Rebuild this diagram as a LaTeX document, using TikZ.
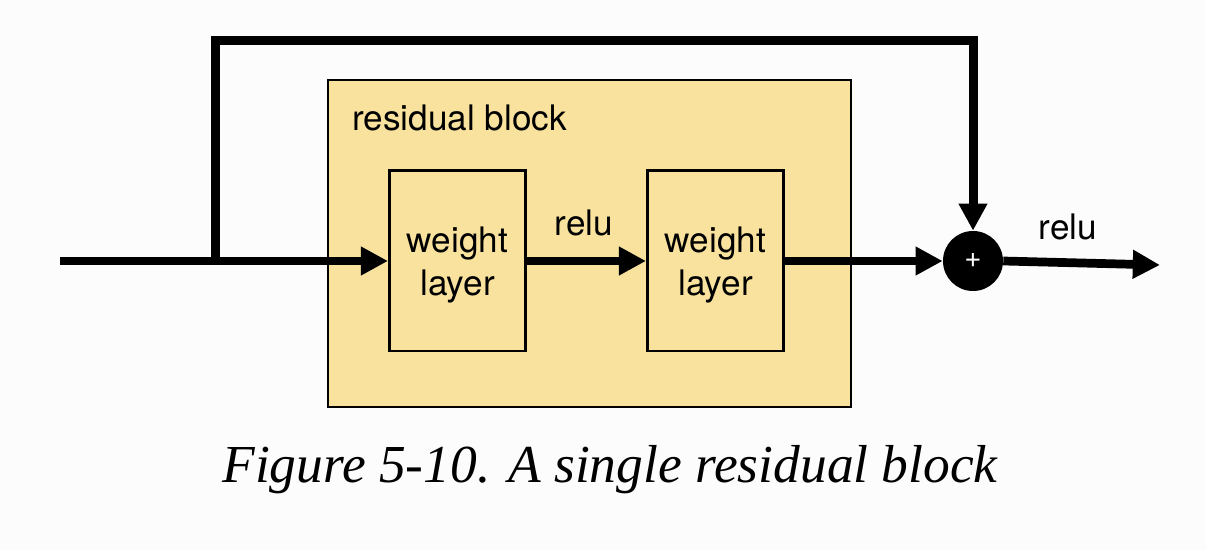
\documentclass[tikz,border=0pt]{standalone}
\usepackage{fontspec}
\setmainfont{TeX Gyre Heros}
\newfontfamily\capfont{Liberation Serif}
\usetikzlibrary{arrows.meta}
\definecolor{bg}{HTML}{FCFCFC}
\definecolor{rbfill}{HTML}{F8E29E}
\tikzset{
  wl/.style={draw=black, line width=2.1pt, fill=rbfill, minimum width=3.4cm, minimum height=4.5cm, inner sep=0pt, align=center, font=\fontsize{25}{30.5}\selectfont},
  rbox/.style={draw=black, line width=1.4pt, fill=rbfill, minimum width=13.075cm, minimum height=8.175cm, inner sep=0pt},
  flow/.style={line width=6.2pt, line join=miter, -{Triangle[length=0.68cm,width=0.68cm]}},
  skipline/.style={line width=6.4pt, line join=miter, -{Triangle[length=0.68cm,width=0.68cm]}},
  lbl/.style={font=\fontsize{25}{30}\selectfont, inner sep=0pt, anchor=base},
  sumnode/.style={circle, fill=black, minimum size=1.5cm, inner sep=0pt, text=white, font=\fontsize{21}{24}\selectfont}
}
\begin{document}
\begin{tikzpicture}[x=0.025cm, y=-0.025cm]
  \fill[bg] (0,0) rectangle (1206,550);
  \useasboundingbox (0,0) rectangle (1206,550);
  \node[rbox] (rb) at (589.5,243.5) {};
  \node[lbl, anchor=base west] (rbl) at (352,131) {residual block};
  \node[wl] (w1) at (457.5,261) {\raisebox{-0.32cm}[0pt][0pt]{\begin{tabular}{@{}c@{}}weight\\layer\end{tabular}}};
  \node[wl] (w2) at (715.5,261) {\raisebox{-0.32cm}[0pt][0pt]{\begin{tabular}{@{}c@{}}weight\\layer\end{tabular}}};
  \node[sumnode] (sum) at (973,261) {+};
  \coordinate (in) at (60,261);
  \coordinate (jn) at (215,261);
  \coordinate (tl) at (215,40.5);
  \coordinate (out) at (1160,265);
  \draw[flow] (in) -- (w1.west);
  \draw[skipline] (jn) -- (tl) -| (sum.north);
  \draw[flow] (w1.east) -- (w2.west);
  \draw[flow] (w2.east) -- (sum.west);
  \draw[flow] (sum.east) -- (out);
  \node[lbl] (r1) at (584,236) {relu};
  \node[lbl] (r2) at (1068,240) {relu};
  \node[anchor=base, inner sep=0pt, font=\capfont\itshape\fontsize{38}{44}\selectfont] (cap) at (610,483) {Figure 5-10. A single residual block};
\end{tikzpicture}
\end{document}
